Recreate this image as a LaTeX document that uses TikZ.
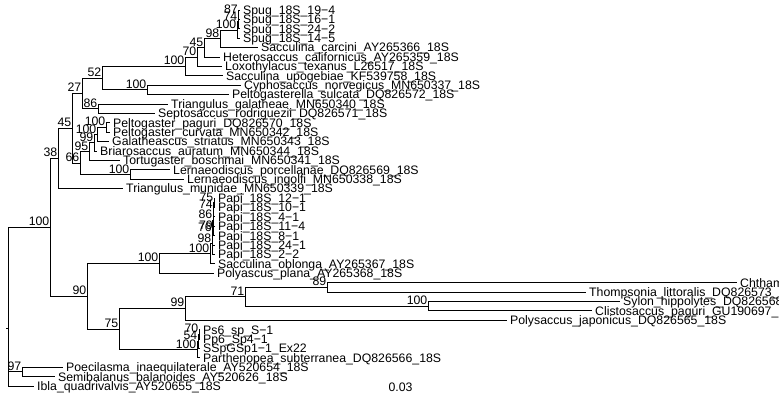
\documentclass[tikz,border=0pt]{standalone}
\usepackage{fontspec}
\setmainfont{Liberation Sans}
\newcommand{\fsz}{\fontsize{12.3}{12.3}\selectfont}
\begin{document}
\begin{tikzpicture}[x=1pt,y=-1pt,
  br/.style={line width=0.9pt, black},
  tiplab/.style={anchor=base west, inner sep=0pt, xshift=3pt, yshift=-4.4pt, font=\fsz},
  nlab/.style={anchor=base east, inner sep=0pt, xshift=-0.5pt, yshift=1.5pt, font=\fsz}]
\useasboundingbox (0,0) rectangle (779,393);
\clip (0,0) rectangle (779,393);
% ---------- tips ----------
\coordinate (t1) at (240,10);
\coordinate (t2) at (240,19.4);
\coordinate (t3) at (240,28.8);
\coordinate (t4) at (240,38.2);
\coordinate (t5) at (258,47.6);
\coordinate (t6) at (220,57);
\coordinate (t7) at (222,66.4);
\coordinate (t8) at (223,75.8);
\coordinate (t9) at (241,85.2);
\coordinate (t10) at (229,94.6);
\coordinate (t11) at (168,104);
\coordinate (t12) at (155,113.4);
\coordinate (t13) at (110,122.8);
\coordinate (t14) at (110,132.2);
\coordinate (t15) at (109,141.6);
\coordinate (t16) at (97,151);
\coordinate (t17) at (120,160.4);
\coordinate (t18) at (170,169.8);
\coordinate (t19) at (184,179.2);
\coordinate (t20) at (123,188.6);
\coordinate (t21) at (215,198);
\coordinate (t22) at (215,207.4);
\coordinate (t23) at (215,216.8);
\coordinate (t24) at (215,226.2);
\coordinate (t25) at (215,235.6);
\coordinate (t26) at (215,245);
\coordinate (t27) at (215,254.4);
\coordinate (t28) at (215,263.8);
\coordinate (t29) at (214,273.2);
\coordinate (t30) at (737,282.6);
\coordinate (t31) at (586,292);
\coordinate (t32) at (620,301.4);
\coordinate (t33) at (592,310.8);
\coordinate (t34) at (507,320.2);
\coordinate (t35) at (200,329.6);
\coordinate (t36) at (200,339);
\coordinate (t37) at (200,348.4);
\coordinate (t38) at (200,357.8);
\coordinate (t39) at (63,367.2);
\coordinate (t40) at (55,376.6);
\coordinate (t41) at (34,386);
% ---------- internal nodes ----------
\coordinate (n87) at (238.5,14.7);
\coordinate (n74) at (238,21.75);
\coordinate (n100c) at (237,29.98);
\coordinate (n98) at (220,38.79);
\coordinate (n45b) at (204,47.9);
\coordinate (n70) at (197,57.15);
\coordinate (n100a) at (185,66.47);
\coordinate (n100b) at (147,89.9);
\coordinate (n52) at (102,78.19);
\coordinate (n86) at (98,108.7);
\coordinate (n27) at (82,93.44);
\coordinate (n100p) at (106,127.5);
\coordinate (n100g) at (97,134.55);
\coordinate (n99) at (94,142.78);
\coordinate (n95) at (89,151.59);
\coordinate (n100l) at (130,174.5);
\coordinate (n66) at (80,163.04);
\coordinate (n45) at (72,128.24);
\coordinate (n38) at (58,158.42);
\coordinate (n75) at (214,202.7);
\coordinate (n74p) at (213.5,209.75);
\coordinate (n79) at (213.5,230.9);
\coordinate (n86p) at (213,220.33);
\coordinate (n76) at (212.5,232.66);
\coordinate (n98p) at (212,243.53);
\coordinate (n100o) at (210,253.67);
\coordinate (n100s) at (159,263.43);
\coordinate (n89) at (327,287.3);
\coordinate (n100sc) at (428,306.1);
\coordinate (n71) at (245,296.7);
\coordinate (n99l) at (185,308.45);
\coordinate (n70ps) at (199,334.3);
\coordinate (n54) at (198,341.35);
\coordinate (n100ps) at (197,349.58);
\coordinate (n75l) at (119,329.01);
\coordinate (n90) at (87,296.22);
\coordinate (nA) at (50,227.32);
\coordinate (n97) at (22,371.9);
\coordinate (root) at (8,328.4);
\coordinate (rootedge) at (6,328.4);
% ---------- branches ----------
\draw[br] (n87) |- (t1) (n87) |- (t2);
\draw[br] (n74) |- (n87) (n74) |- (t3);
\draw[br] (n100c) |- (n74) (n100c) |- (t4);
\draw[br] (n98) |- (n100c) (n98) |- (t5);
\draw[br] (n45b) |- (n98) (n45b) |- (t6);
\draw[br] (n70) |- (n45b) (n70) |- (t7);
\draw[br] (n100a) |- (n70) (n100a) |- (t8);
\draw[br] (n100b) |- (t9) (n100b) |- (t10);
\draw[br] (n52) |- (n100a) (n52) |- (n100b);
\draw[br] (n86) |- (t11) (n86) |- (t12);
\draw[br] (n27) |- (n52) (n27) |- (n86);
\draw[br] (n100p) |- (t13) (n100p) |- (t14);
\draw[br] (n100g) |- (n100p) (n100g) |- (t15);
\draw[br] (n99) |- (n100g) (n99) |- (t16);
\draw[br] (n95) |- (n99) (n95) |- (t17);
\draw[br] (n100l) |- (t18) (n100l) |- (t19);
\draw[br] (n66) |- (n95) (n66) |- (n100l);
\draw[br] (n45) |- (n27) (n45) |- (n66);
\draw[br] (n38) |- (n45) (n38) |- (t20);
\draw[br] (n75) |- (t21) (n75) |- (t22);
\draw[br] (n74p) |- (n75) (n74p) |- (t23);
\draw[br] (n79) |- (t24) (n79) |- (t25);
\draw[br] (n86p) |- (n74p) (n86p) |- (n79);
\draw[br] (n76) |- (n86p) (n76) |- (t26);
\draw[br] (n98p) |- (n76) (n98p) |- (t27);
\draw[br] (n100o) |- (n98p) (n100o) |- (t28);
\draw[br] (n100s) |- (n100o) (n100s) |- (t29);
\draw[br] (n89) |- (t30) (n89) |- (t31);
\draw[br] (n100sc) |- (t32) (n100sc) |- (t33);
\draw[br] (n71) |- (n89) (n71) |- (n100sc);
\draw[br] (n99l) |- (n71) (n99l) |- (t34);
\draw[br] (n70ps) |- (t35) (n70ps) |- (t36);
\draw[br] (n54) |- (n70ps) (n54) |- (t37);
\draw[br] (n100ps) |- (n54) (n100ps) |- (t38);
\draw[br] (n75l) |- (n99l) (n75l) |- (n100ps);
\draw[br] (n90) |- (n100s) (n90) |- (n75l);
\draw[br] (nA) |- (n38) (nA) |- (n90);
\draw[br] (n97) |- (t39) (n97) |- (t40);
\draw[br] (root) |- (nA) (root) |- (n97) (root) |- (t41);
\draw[br] (rootedge) -- (root);
% ---------- tip labels ----------
\node[tiplab] (L1) at (t1) {Spug\_18S\_19−4};
\node[tiplab] (L2) at (t2) {Spug\_18S\_16−1};
\node[tiplab] (L3) at (t3) {Spug\_18S\_24−2};
\node[tiplab] (L4) at (t4) {Spug\_18S\_14−5};
\node[tiplab] (L5) at (t5) {Sacculina\_carcini\_AY265366\_18S};
\node[tiplab] (L6) at (t6) {Heterosaccus\_californicus\_AY265359\_18S};
\node[tiplab] (L7) at (t7) {Loxothylacus\_texanus\_L26517\_18S};
\node[tiplab] (L8) at (t8) {Sacculina\_upogebiae\_KF539758\_18S};
\node[tiplab] (L9) at (t9) {Cyphosaccus\_norvegicus\_MN650337\_18S};
\node[tiplab] (L10) at (t10) {Peltogasterella\_sulcata\_DQ826572\_18S};
\node[tiplab] (L11) at (t11) {Triangulus\_galatheae\_MN650340\_18S};
\node[tiplab] (L12) at (t12) {Septosaccus\_rodriguezii\_DQ826571\_18S};
\node[tiplab] (L13) at (t13) {Peltogaster\_paguri\_DQ826570\_18S};
\node[tiplab] (L14) at (t14) {Peltogaster\_curvata\_MN650342\_18S};
\node[tiplab] (L15) at (t15) {Galatheascus\_striatus\_MN650343\_18S};
\node[tiplab] (L16) at (t16) {Briarosaccus\_auratum\_MN650344\_18S};
\node[tiplab] (L17) at (t17) {Tortugaster\_boschmai\_MN650341\_18S};
\node[tiplab] (L18) at (t18) {Lernaeodiscus\_porcellanae\_DQ826569\_18S};
\node[tiplab] (L19) at (t19) {Lernaeodiscus\_ingolfi\_MN650338\_18S};
\node[tiplab] (L20) at (t20) {Triangulus\_munidae\_MN650339\_18S};
\node[tiplab] (L21) at (t21) {Papi\_18S\_12−1};
\node[tiplab] (L22) at (t22) {Papi\_18S\_10−1};
\node[tiplab] (L23) at (t23) {Papi\_18S\_4−1};
\node[tiplab] (L24) at (t24) {Papi\_18S\_11−4};
\node[tiplab] (L25) at (t25) {Papi\_18S\_8−1};
\node[tiplab] (L26) at (t26) {Papi\_18S\_24−1};
\node[tiplab] (L27) at (t27) {Papi\_18S\_2−2};
\node[tiplab] (L28) at (t28) {Sacculina\_oblonga\_AY265367\_18S};
\node[tiplab] (L29) at (t29) {Polyascus\_plana\_AY265368\_18S};
\node[tiplab] (L30) at (t30) {Chthamalus\_stellatus};
\node[tiplab] (L31) at (t31) {Thompsonia\_littoralis\_DQ826573\_18S};
\node[tiplab] (L32) at (t32) {Sylon\_hippolytes\_DQ826568\_18S};
\node[tiplab] (L33) at (t33) {Clistosaccus\_paguri\_GU190697\_18S};
\node[tiplab] (L34) at (t34) {Polysaccus\_japonicus\_DQ826565\_18S};
\node[tiplab] (L35) at (t35) {Ps6\_sp\_S−1};
\node[tiplab] (L36) at (t36) {Pp6\_Sp4−1};
\node[tiplab] (L37) at (t37) {SSpGSp1−1\_Ex22};
\node[tiplab] (L38) at (t38) {Parthenopea\_subterranea\_DQ826566\_18S};
\node[tiplab] (L39) at (t39) {Poecilasma\_inaequilaterale\_AY520654\_18S};
\node[tiplab] (L40) at (t40) {Semibalanus\_balanoides\_AY520626\_18S};
\node[tiplab] (L41) at (t41) {Ibla\_quadrivalvis\_AY520655\_18S};
% ---------- node (support) labels ----------
\node[nlab] (s1) at (n87) {87};
\node[nlab] (s2) at (n74) {74};
\node[nlab] (s3) at (n100c) {100};
\node[nlab] (s4) at (n98) {98};
\node[nlab] (s5) at (n45b) {45};
\node[nlab] (s6) at (n70) {70};
\node[nlab] (s7) at (n100a) {100};
\node[nlab] (s8) at (n100b) {100};
\node[nlab] (s9) at (n52) {52};
\node[nlab] (s10) at (n86) {86};
\node[nlab] (s11) at (n27) {27};
\node[nlab] (s12) at (n100p) {100};
\node[nlab] (s13) at (n100g) {100};
\node[nlab] (s14) at (n99) {99};
\node[nlab] (s15) at (n95) {95};
\node[nlab] (s16) at (n100l) {100};
\node[nlab] (s17) at (n66) {66};
\node[nlab] (s18) at (n45) {45};
\node[nlab] (s19) at (n38) {38};
\node[nlab] (s20) at (n75) {75};
\node[nlab] (s21) at (n74p) {74};
\node[nlab] (s22) at (n79) {79};
\node[nlab] (s23) at (n86p) {86};
\node[nlab] (s24) at (n76) {76};
\node[nlab] (s25) at (n98p) {98};
\node[nlab] (s26) at (n100o) {100};
\node[nlab] (s27) at (n100s) {100};
\node[nlab] (s28) at (n89) {89};
\node[nlab] (s29) at (n100sc) {100};
\node[nlab] (s30) at (n71) {71};
\node[nlab] (s31) at (n99l) {99};
\node[nlab] (s32) at (n70ps) {70};
\node[nlab] (s33) at (n54) {54};
\node[nlab] (s34) at (n100ps) {100};
\node[nlab] (s35) at (n75l) {75};
\node[nlab] (s36) at (n90) {90};
\node[nlab] (s37) at (nA) {100};
\node[nlab] (s38) at (n97) {97};
% ---------- scale text ----------
\node[font=\fsz, inner sep=0pt] (scale) at (400.5,387.5) {0.03};
\end{tikzpicture}
\end{document}
